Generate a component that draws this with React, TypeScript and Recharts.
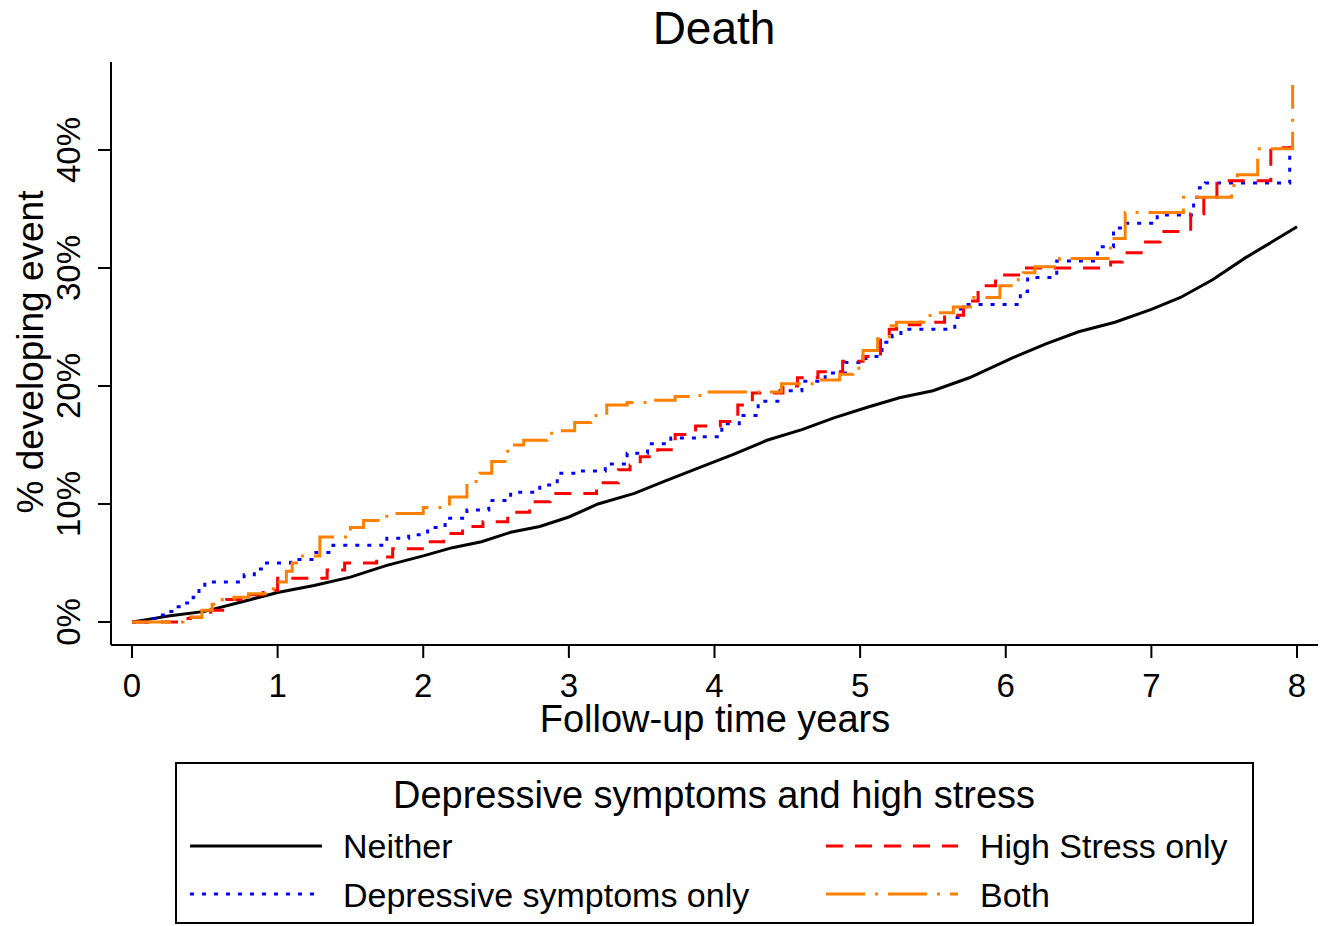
import React from 'react';
import { LineChart, Line, XAxis, YAxis, Legend, Customized } from 'recharts';

const chartTitle = 'Death';
const xLabel = 'Follow-up time years';
const yLabel = '% developing event';
const legendTitle = 'Depressive symptoms and high stress';
const xTicks = [0, 1, 2, 3, 4, 5, 6, 7, 8];
const yTicks = [0, 10, 20, 30, 40];

// [years, cumulative % developing event]
const neither: [number, number][] = [
  [0, 0], [0.1, 0.2], [0.25, 0.5], [0.5, 0.9], [0.75, 1.7], [1, 2.5], [1.25, 3.1], [1.5, 3.8],
  [1.75, 4.8], [2, 5.6], [2.2, 6.3], [2.4, 6.8], [2.6, 7.6], [2.8, 8.1], [3, 8.9], [3.2, 10.0],
  [3.45, 10.9], [3.65, 11.9], [3.9, 13.1], [4.13, 14.2], [4.36, 15.4], [4.6, 16.3], [4.82, 17.3],
  [5.05, 18.2], [5.27, 19.0], [5.5, 19.6], [5.75, 20.7], [6.05, 22.4], [6.28, 23.6], [6.5, 24.6],
  [6.75, 25.4], [7, 26.5], [7.2, 27.5], [7.42, 29.0], [7.65, 30.9], [7.8, 32.0], [8, 33.5],
];

const depressiveOnly: [number, number][] = [
  [0, 0], [0.1, 0.3], [0.18, 0.6], [0.24, 0.9], [0.3, 1.3], [0.35, 1.6], [0.42, 2.1], [0.46, 2.8],
  [0.5, 3.4], [0.77, 4.0], [0.84, 4.5], [0.9, 5.0], [1.09, 5.3], [1.25, 5.9], [1.38, 6.5],
  [1.75, 7.1], [1.9, 7.4], [2.03, 8.0], [2.15, 8.8], [2.3, 9.5], [2.45, 10.3], [2.6, 11.0],
  [2.8, 11.6], [2.92, 12.6], [3.05, 12.8], [3.25, 13.4], [3.4, 14.3], [3.54, 15.1], [3.7, 15.6],
  [3.88, 15.7], [4.05, 16.8], [4.17, 17.5], [4.3, 18.7], [4.45, 19.6], [4.6, 20.4], [4.76, 21.1],
  [4.9, 22.0], [5.04, 22.5], [5.15, 23.7], [5.22, 24.3], [5.28, 24.8], [5.65, 25.8], [5.69, 26.9],
  [6.1, 28.0], [6.15, 29.2], [6.35, 30.6], [6.63, 31.8], [6.74, 33.4], [6.83, 33.8], [7.04, 34.5],
  [7.29, 36.0], [7.33, 36.8], [7.37, 37.2], [7.95, 40.2], [7.97, 40.2],
];

const highStressOnly: [number, number][] = [
  [0, 0], [0.32, 0.3], [0.4, 0.4], [0.54, 1.0], [0.65, 1.9], [0.79, 2.3], [0.9, 2.7], [1.0, 3.7],
  [1.34, 4.4], [1.46, 5.0], [1.68, 5.5], [1.79, 6.2], [2.02, 6.8], [2.14, 7.5], [2.27, 8.1],
  [2.41, 8.5], [2.58, 9.3], [2.73, 10.2], [2.87, 10.9], [3.19, 11.8], [3.34, 12.9], [3.42, 13.3],
  [3.49, 14.0], [3.61, 14.6], [3.73, 15.9], [3.87, 16.6], [4.04, 17.0], [4.16, 18.4], [4.26, 19.4],
  [4.47, 20.0], [4.57, 20.7], [4.71, 21.2], [4.88, 22.1], [5.02, 22.5], [5.14, 23.9], [5.2, 24.8],
  [5.25, 25.2], [5.41, 25.4], [5.58, 26.0], [5.71, 27.2], [5.81, 28.5], [5.93, 29.4], [6.1, 30.0],
  [6.72, 30.5], [6.8, 31.3], [6.96, 32.2], [7.06, 33.1], [7.27, 34.6], [7.36, 36.0], [7.45, 37.4],
  [7.82, 40.2], [7.97, 40.2],
];

const both: [number, number][] = [
  [0, 0], [0.35, 0.4], [0.48, 1.0], [0.55, 1.5], [0.62, 1.9], [0.7, 2.1], [0.8, 2.4], [0.93, 2.7],
  [0.97, 3.4], [1.06, 4.3], [1.1, 5.0], [1.15, 5.6], [1.29, 7.2], [1.5, 8.0], [1.59, 8.6],
  [1.75, 9.2], [2.0, 9.7], [2.18, 10.6], [2.3, 11.9], [2.39, 12.6], [2.47, 13.6], [2.58, 15.0],
  [2.69, 15.4], [2.85, 16.0], [2.93, 16.2], [3.04, 16.9], [3.15, 17.5], [3.26, 18.4], [3.4, 18.6],
  [3.54, 18.8], [3.73, 19.1], [3.85, 19.2], [3.92, 19.5], [4.46, 20.2], [4.69, 20.5], [4.86, 21.0],
  [4.95, 21.5], [5.02, 23.0], [5.12, 24.0], [5.2, 25.1], [5.25, 25.4], [5.48, 26.2], [5.64, 26.7],
  [5.78, 27.5], [5.96, 28.5], [6.05, 29.0], [6.12, 29.6], [6.2, 30.1], [6.37, 30.8], [6.72, 32.5],
  [6.82, 34.7], [7.22, 36.0], [7.55, 37.0], [7.59, 37.9], [7.73, 40.1], [7.97, 45.5],
];

const FONT = '"Liberation Sans", Arial, Helvetica, sans-serif';

type Series = {
  name: string;
  points: [number, number][];
  color: string;
  dash?: string;
  type: 'linear' | 'stepAfter';
  col: number;
  row: number;
};

const series: Series[] = [
  { name: 'Neither', points: neither, color: '#000000', type: 'linear', col: 0, row: 0 },
  { name: 'Depressive symptoms only', points: depressiveOnly, color: '#0000ff', dash: '4 8', type: 'stepAfter', col: 0, row: 1 },
  { name: 'High Stress only', points: highStressOnly, color: '#ff0000', dash: '17 12', type: 'stepAfter', col: 1, row: 0 },
  { name: 'Both', points: both, color: '#ff8000', dash: '39 10 3 10', type: 'stepAfter', col: 1, row: 1 },
];

const toRows = (pts: [number, number][]) => pts.map(([t, v]) => ({ t, v }));

const YTick = (props: any) => {
  const { y, payload } = props;
  const bx = 80;
  return (
    <text x={bx} y={y} transform={`rotate(-90 ${bx} ${y})`} textAnchor="middle" fontSize={33} fontFamily={FONT} fill="#000">
      {payload.value}%
    </text>
  );
};

const XTick = (props: any) => {
  const { x, payload } = props;
  return (
    <text x={x} y={697} textAnchor="middle" fontSize={33} fontFamily={FONT} fill="#000">
      {payload.value}
    </text>
  );
};

const Texts = () => (
  <g>
    <text x={714} y={44} textAnchor="middle" fontSize={46} fontFamily={FONT} fill="#000">{chartTitle}</text>
    <text x={715} y={732} textAnchor="middle" fontSize={38} fontFamily={FONT} fill="#000">{xLabel}</text>
    <text x={43} y={352} transform="rotate(-90 43 352)" textAnchor="middle" fontSize={37} fontFamily={FONT} fill="#000">{yLabel}</text>
  </g>
);

const LegendBox = () => {
  const lineX = [15, 651];
  const textX = [168, 805];
  const lineY = [84, 132];
  const textY = [96, 145];
  return (
    <svg width={1079} height={162} style={{ display: 'block' }}>
      <rect x={1} y={1} width={1077} height={160} fill="#fff" stroke="#000" strokeWidth={2} />
      <text x={539} y={46} textAnchor="middle" fontSize={38} fontFamily={FONT} fill="#000">{legendTitle}</text>
      {series.map((s) => (
        <g key={s.name}>
          <line x1={lineX[s.col]} x2={lineX[s.col] + 132} y1={lineY[s.row]} y2={lineY[s.row]}
            stroke={s.color} strokeWidth={3} strokeDasharray={s.dash} />
          <text x={textX[s.col]} y={textY[s.row]} fontSize={34} fontFamily={FONT} fill="#000">{s.name}</text>
        </g>
      ))}
    </svg>
  );
};

export default function App() {
  return (
    <div style={{ position: 'absolute', left: 0, top: 0, width: 1330, height: 926, background: '#fff' }}>
      <LineChart width={1330} height={926} margin={{ top: 62, right: 12, bottom: 221, left: 11 }}>
        <XAxis
          type="number"
          dataKey="t"
          domain={[-0.1442, 8.1442]}
          allowDataOverflow
          ticks={xTicks}
          interval={0}
          height={60}
          tickSize={13}
          tick={<XTick />}
          axisLine={{ stroke: '#000', strokeWidth: 2 }}
          tickLine={{ stroke: '#000', strokeWidth: 2 }}
        />
        <YAxis
          type="number"
          dataKey="v"
          domain={[-1.949, 47.458]}
          allowDataOverflow
          ticks={yTicks}
          interval={0}
          width={100}
          tickSize={13}
          tick={<YTick />}
          axisLine={{ stroke: '#000', strokeWidth: 2 }}
          tickLine={{ stroke: '#000', strokeWidth: 2 }}
        />
        {series.map((s) => (
          <Line
            key={s.name}
            name={s.name}
            data={toRows(s.points)}
            dataKey="v"
            type={s.type}
            stroke={s.color}
            strokeWidth={3}
            strokeDasharray={s.dash}
            dot={false}
            activeDot={false}
            isAnimationActive={false}
          />
        ))}
        <Legend
          layout="horizontal"
          verticalAlign="middle"
          align="center"
          content={() => <LegendBox />}
          wrapperStyle={{ left: 175, top: 762, width: 1079, height: 162 }}
        />
        <Customized component={Texts} />
      </LineChart>
    </div>
  );
}
